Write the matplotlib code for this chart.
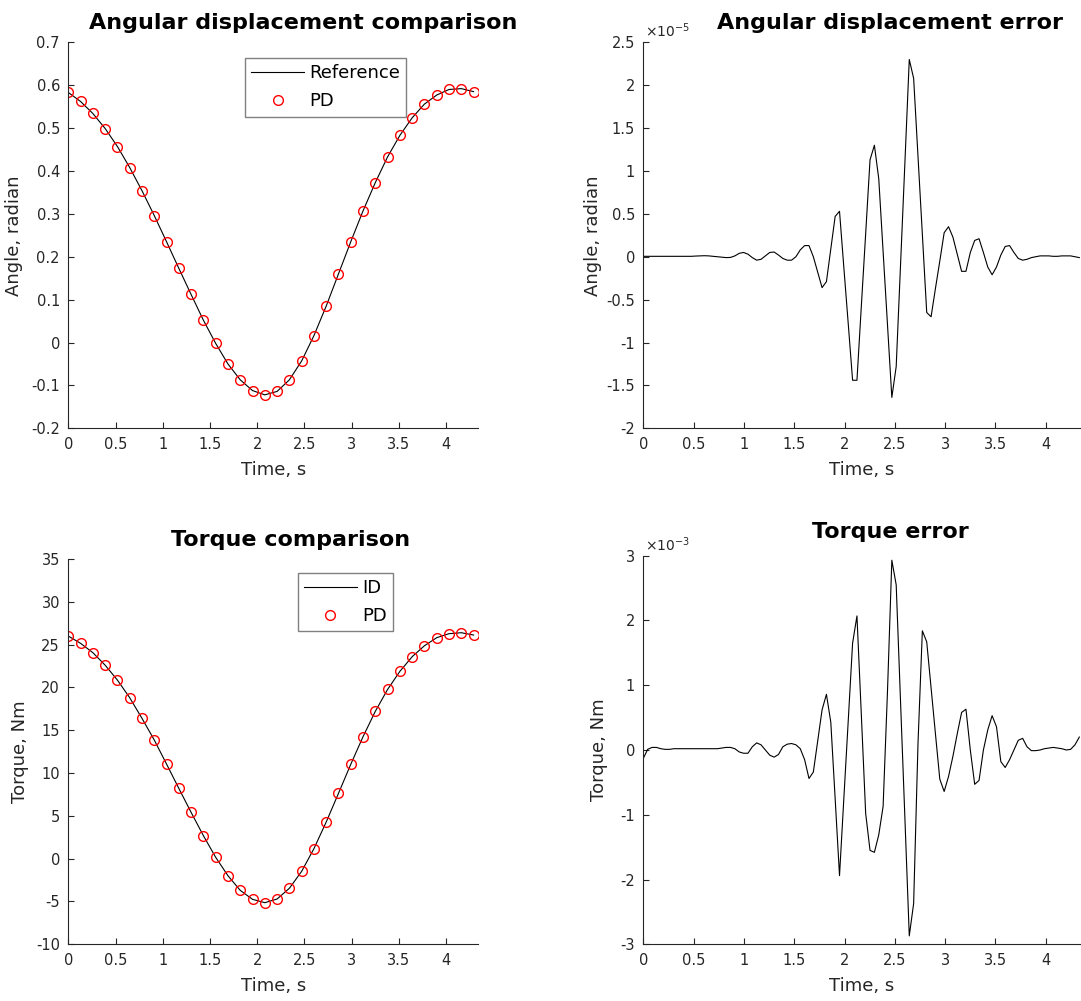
import numpy as np
import matplotlib
matplotlib.use('Agg')
import matplotlib.pyplot as plt
from matplotlib.ticker import FuncFormatter, MultipleLocator

plt.rcParams['font.family'] = ['DejaVu Sans']
plt.rcParams['axes.unicode_minus'] = False

# time grid of the simulation (101 samples), PD markers every 3rd sample
t = np.linspace(0, 4.3333, 101)
t_mark = t[::3]

# angular displacement at the marker times, radian
angle_ref = [0.583, 0.562, 0.534, 0.499, 0.457, 0.408, 0.354, 0.296, 0.235, 0.173,
             0.112, 0.052, -0.002, -0.050, -0.087, -0.112, -0.122, -0.114, -0.087, -0.043,
             0.016, 0.085, 0.160, 0.235, 0.307, 0.373, 0.433, 0.483, 0.524, 0.556,
             0.577, 0.590, 0.592, 0.585]

# torque at the marker times, Nm
torque_ref = [26.0, 25.15, 24.06, 22.6, 20.86, 18.8, 16.39, 13.86, 11.05, 8.21,
              5.41, 2.69, 0.16, -1.99, -3.70, -4.75, -5.14, -4.71, -3.46, -1.48,
              1.17, 4.28, 7.63, 11.02, 14.25, 17.21, 19.77, 21.88, 23.59, 24.87,
              25.81, 26.28, 26.39, 26.12]

# angular displacement error, x 1e-5 radian
angle_err = [0.005, 0.005, 0.005, 0.005, 0.005, 0.005, 0.005, 0.005, 0.005, 0.005,
             0.005, 0.005, 0.008, 0.01, 0.012, 0.01, 0.005, 0.0, -0.005, -0.01,
             -0.008, 0.01, 0.04, 0.05, 0.03, -0.01, -0.04, -0.03, 0.01, 0.05,
             0.055, 0.02, -0.02, -0.04, -0.04, 0.0, 0.08, 0.13, 0.13, 0.0,
             -0.18, -0.36, -0.29, 0.09, 0.47, 0.53, -0.13, -0.78, -1.44, -1.44,
             -0.58, 0.27, 1.13, 1.30, 0.91, 0.06, -0.79, -1.64, -1.28, -0.09,
             1.10, 2.30, 2.08, 1.17, 0.26, -0.65, -0.70, -0.37, -0.05, 0.28,
             0.35, 0.23, 0.03, -0.17, -0.17, 0.05, 0.19, 0.21, 0.05, -0.12,
             -0.21, -0.12, 0.02, 0.12, 0.13, 0.05, -0.02, -0.04, -0.03, -0.01,
             0.0, 0.01, 0.01, 0.01, 0.005, 0.005, 0.01, 0.01, 0.01, 0.0,
             -0.01]

# torque error, x 1e-3 Nm
torque_err = [-0.13, 0.01, 0.04, 0.04, 0.02, 0.01, 0.01, 0.02, 0.02, 0.02,
              0.02, 0.02, 0.02, 0.02, 0.02, 0.02, 0.02, 0.02, 0.03, 0.04,
              0.04, 0.02, -0.03, -0.05, -0.05, 0.05, 0.11, 0.08, 0.0, -0.08,
              -0.11, -0.07, 0.05, 0.09, 0.10, 0.08, 0.02, -0.15, -0.44, -0.34,
              0.14, 0.62, 0.86, 0.43, -0.75, -1.94, -0.74, 0.45, 1.65, 2.07,
              0.55, -0.98, -1.55, -1.58, -1.31, -0.87, 0.9, 2.93, 2.55, 0.74,
              -1.06, -2.87, -2.37, 0.1, 1.84, 1.67, 0.96, 0.25, -0.45, -0.64,
              -0.41, -0.1, 0.25, 0.58, 0.63, 0.0, -0.53, -0.47, 0.0, 0.31,
              0.53, 0.36, -0.18, -0.27, -0.15, 0.0, 0.15, 0.18, 0.05, -0.01,
              -0.01, 0.0, 0.02, 0.03, 0.04, 0.03, 0.02, 0.0, 0.01, 0.08,
              0.20]

angle_pd = np.array(angle_ref) + np.array(angle_err[::3]) * 1e-5
torque_pd = np.array(torque_ref) + np.array(torque_err[::3]) * 1e-3

AX_COLOR = '#262626'
W, H = 1081, 1001


def box(l, r, top, bottom):
    return [l / W, 1 - bottom / H, (r - l) / W, (bottom - top) / H]


def style_axes(ax, ylim, ystep, scale=1.0):
    ax.set_xlim(0, 4.34)
    ax.set_ylim(*ylim)
    ax.xaxis.set_major_locator(MultipleLocator(0.5))
    ax.yaxis.set_major_locator(MultipleLocator(ystep))
    ax.xaxis.set_major_formatter(FuncFormatter(lambda v, p: f'{v:g}'))
    ax.yaxis.set_major_formatter(FuncFormatter(lambda v, p: f'{round(v / scale, 6):g}'))
    for s in ['top', 'right']:
        ax.spines[s].set_visible(False)
    for s in ['left', 'bottom']:
        ax.spines[s].set_color(AX_COLOR)
        ax.spines[s].set_linewidth(0.8)
    ax.tick_params(direction='in', length=4, width=0.8, colors=AX_COLOR,
                   labelsize=10.5, pad=6)
    ax.set_xlabel('Time, s', fontsize=13, color=AX_COLOR)
    ax.xaxis.set_label_coords(0.5, -0.085)


def add_title(ax, text, x, dy):
    ax.text(x, 1 + dy, text, transform=ax.transAxes, ha='center', va='center',
            fontsize=16, fontweight='bold', color='black')


def add_legend(ax, anchor):
    ax.legend(loc='upper left', bbox_to_anchor=anchor, fontsize=13,
              fancybox=False, framealpha=1, edgecolor='#808080', handlelength=2.9,
              handletextpad=0.3, borderaxespad=0, borderpad=0.35, labelspacing=0.55)


fig = plt.figure(figsize=(W / 100, H / 100), dpi=100)

ax1 = fig.add_axes(box(68.3, 478.3, 42.3, 428.3))
ax2 = fig.add_axes(box(643.3, 1080, 42.3, 428.3))
ax3 = fig.add_axes(box(68.3, 478.3, 559, 944.3))
ax4 = fig.add_axes(box(643.3, 1080, 555.7, 944.3))

# angular displacement comparison
ax1.plot(t_mark, angle_ref, color='black', lw=0.8, label='Reference')
ax1.plot(t_mark, angle_pd, 'o', ms=7, mfc='none', mec='red', mew=1.0, label='PD')
style_axes(ax1, (-0.2, 0.7), 0.1)
ax1.set_ylabel('Angle, radian', fontsize=13, color=AX_COLOR)
ax1.yaxis.set_label_coords(-0.11, 0.5)
add_title(ax1, 'Angular displacement comparison', 0.572, 0.05)
add_legend(ax1, (0.431, 0.959))

# angular displacement error
ax2.plot(t, np.array(angle_err) * 1e-5, color='black', lw=0.8)
style_axes(ax2, (-2e-5, 2.5e-5), 0.5e-5, scale=1e-5)
ax2.set_ylabel('Angle, radian', fontsize=13, color=AX_COLOR)
ax2.yaxis.set_label_coords(-0.095, 0.5)
ax2.text(0.005, 1.005, r'$\times 10^{-5}$', transform=ax2.transAxes, ha='left', va='bottom',
         fontsize=10, color=AX_COLOR)
add_title(ax2, 'Angular displacement error', 0.565, 0.05)

# torque comparison
ax3.plot(t_mark, torque_ref, color='black', lw=0.8, label='ID')
ax3.plot(t_mark, torque_pd, 'o', ms=7, mfc='none', mec='red', mew=1.0, label='PD')
style_axes(ax3, (-10, 35), 5)
ax3.set_ylabel('Torque, Nm', fontsize=13, color=AX_COLOR)
ax3.yaxis.set_label_coords(-0.095, 0.5)
add_title(ax3, 'Torque comparison', 0.541, 0.05)
add_legend(ax3, (0.56, 0.964))

# torque error
ax4.plot(t, np.array(torque_err) * 1e-3, color='black', lw=0.8)
style_axes(ax4, (-3e-3, 3e-3), 1e-3, scale=1e-3)
ax4.set_ylabel('Torque, Nm', fontsize=13, color=AX_COLOR)
ax4.yaxis.set_label_coords(-0.08, 0.5)
ax4.text(0.005, 1.005, r'$\times 10^{-3}$', transform=ax4.transAxes, ha='left', va='bottom',
         fontsize=10, color=AX_COLOR)
add_title(ax4, 'Torque error', 0.565, 0.062)

fig.savefig('out.png', dpi=100)
